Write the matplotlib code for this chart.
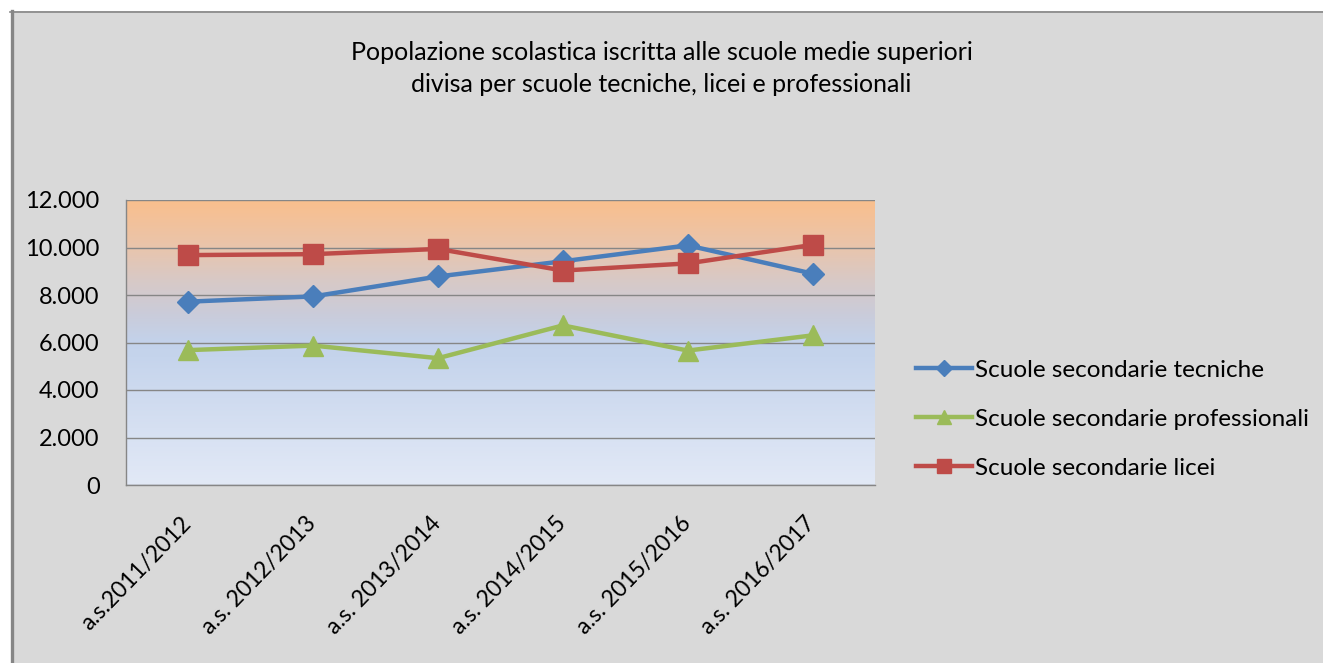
import matplotlib.pyplot as plt
import numpy as np
from matplotlib.colors import LinearSegmentedColormap
from matplotlib.patches import Rectangle
from matplotlib.lines import Line2D
from matplotlib.transforms import ScaledTranslation

plt.rcParams['font.family'] = ['Lato', 'DejaVu Sans']

# dati
anni = ['a.s.2011/2012', 'a.s. 2012/2013', 'a.s. 2013/2014',
        'a.s. 2014/2015', 'a.s. 2015/2016', 'a.s. 2016/2017']
tecniche = [7720, 7940, 8780, 9420, 10090, 8900]
professionali = [5680, 5870, 5340, 6720, 5660, 6300]
licei = [9680, 9720, 9940, 9030, 9330, 10110]

fig = plt.figure(figsize=(13.23, 6.63), dpi=100)
fig.patch.set_facecolor('white')
# cornice grigia (solo bordo sinistro e superiore)
fig.add_artist(Rectangle((11/1323, 0), 1, 1 - 11/663, transform=fig.transFigure,
                         facecolor='#D9D9D9', edgecolor='none', zorder=-10))
fig.add_artist(Line2D([11.5/1323, 11.5/1323], [0, 1 - 11/663], transform=fig.transFigure,
                      color='#868686', lw=2.4, zorder=-9))
fig.add_artist(Line2D([10/1323, 1], [1 - 11.5/663, 1 - 11.5/663], transform=fig.transFigure,
                      color='#868686', lw=1.2, zorder=-9))

ax = fig.add_axes([126/1323, 1 - 485/663, (875-126)/1323, (485-200)/663])
ax.set_facecolor('none')

# sfondo sfumato dell'area del grafico
cmap = LinearSegmentedColormap.from_list('sfondo', [
    (0.0, '#E2E9F6'), (0.2, '#D6E0F2'), (0.45, '#C5D4EC'), (0.5, '#C3D2EB'),
    (0.6, '#CACCDA'), (0.72, '#D8C9C6'), (0.85, '#EBC4A9'), (1.0, '#F9BF8D')])
grad = np.linspace(0, 1, 256).reshape(-1, 1)
ax.imshow(grad, cmap=cmap, origin='lower', aspect='auto',
          extent=[-0.5, 5.5, 0, 12000], zorder=0)

x = np.arange(len(anni))
ax.plot(x, tecniche, color='#4A7EBB', lw=3.2, marker='D', ms=11,
        label='Scuole secondarie tecniche', zorder=3)
ax.plot(x, professionali, color='#9BBB59', lw=3.2, marker='^', ms=14,
        label='Scuole secondarie professionali', zorder=3)
ax.plot(x, licei, color='#BE4B48', lw=3.2, marker='s', ms=14,
        label='Scuole secondarie licei', zorder=4)

ax.set_xlim(-0.5, 5.5)
ax.set_ylim(0, 12000)
ax.set_yticks(range(0, 12001, 2000))
ax.set_yticklabels(['0', '2.000', '4.000', '6.000', '8.000', '10.000', '12.000'])
ax.yaxis.grid(True, color='#868686', lw=1.0, zorder=1)
ax.set_axisbelow(False)
for s in ['top', 'right']:
    ax.spines[s].set_visible(False)
for s in ['left', 'bottom']:
    ax.spines[s].set_color('#868686')
    ax.spines[s].set_linewidth(1.0)
ax.tick_params(axis='y', length=0, pad=19, labelsize=17)
ax.set_xticks(x)
ax.set_xticklabels(anni, rotation=46, ha='right', fontsize=16.5)
ax.tick_params(axis='x', length=0, pad=20)
spost = ScaledTranslation(7/100, 0, fig.dpi_scale_trans)
for lab in ax.get_xticklabels():
    lab.set_transform(lab.get_transform() + spost)

fig.text(0.5, 1 - 53/663, 'Popolazione scolastica iscritta alle scuole medie superiori',
         ha='center', va='center', fontsize=18)
fig.text(0.5, 1 - 85/663, 'divisa per scuole tecniche, licei e professionali',
         ha='center', va='center', fontsize=18)

ax.legend(loc='upper left', bbox_to_anchor=(894/1323, 1 - 338/663), bbox_transform=fig.transFigure,
          frameon=False, fontsize=17.5, handlelength=2.3, handletextpad=0.15,
          labelspacing=1.15, markerscale=0.7)

fig.savefig('out.png', dpi=100)
